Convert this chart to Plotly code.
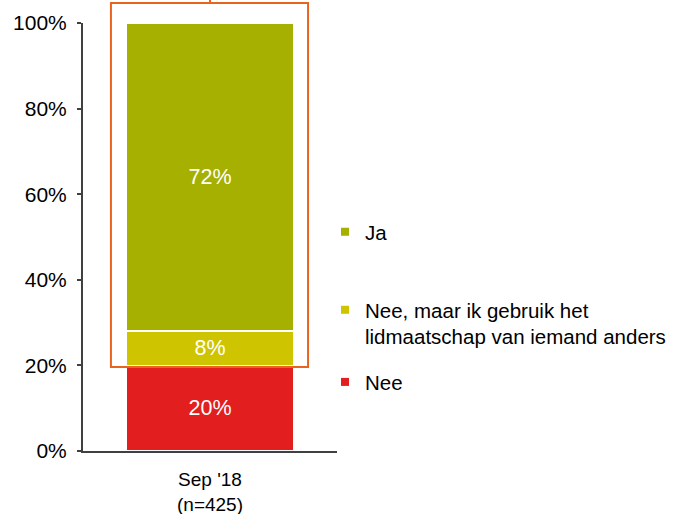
import plotly.graph_objects as go

# data
categories = ["Sep '18<br>(n=425)"]
series_names = ["Nee", "Nee, maar ik gebruik het<br>lidmaatschap van iemand anders", "Ja"]
series_values = [[20], [8], [72]]
series_colors = ["#E31E1E", "#CFC400", "#A5B000"]
y_ticks = [0, 20, 40, 60, 80, 100]
y_tick_labels = ["0%", "20%", "40%", "60%", "80%", "100%"]

FONT = "Arial, Liberation Sans, sans-serif"

fig = go.Figure()

# stacked bars (no legend, legend is drawn by small square markers)
for name, vals, col in zip(series_names, series_values, series_colors):
    fig.add_trace(go.Bar(
        x=categories, y=vals, name=name,
        marker=dict(color=col, line=dict(color="white", width=1.5)),
        text=[f"{v}%" for v in vals], textposition="inside",
        insidetextanchor="middle",
        textfont=dict(color="white", size=21.5, family=FONT),
        width=0.66, showlegend=False,
    ))

# legend entries, one legend each so the spacing can follow the picture
legend_ids = ["legend3", "legend2", "legend"]
legend_y = [0.161, 0.298, 0.512]
for name, col, lg in zip(series_names, series_colors, legend_ids):
    fig.add_trace(go.Scatter(
        x=[None], y=[None], mode="markers", name=name, legend=lg,
        marker=dict(symbol="square", size=8, color=col),
        showlegend=True,
    ))

legend_style = dict(font=dict(size=20.5, family=FONT, color="black"),
                    bgcolor="rgba(0,0,0,0)", x=0.4095, xanchor="left",
                    yanchor="middle", valign="top", itemwidth=30)
fig.update_layout(**{lg: dict(y=yy, **legend_style)
                     for lg, yy in zip(legend_ids, legend_y)})

# orange highlight box round the "Ja" and "Nee, maar" part
low = series_values[0][0]
fig.add_shape(type="rect", xref="x domain", yref="y domain", x0=0.11, x1=0.886,
              y0=(low - 0.4) / 100, y1=1.047, line=dict(color="#E8641E", width=2),
              fillcolor="rgba(0,0,0,0)", layer="above")
fig.add_shape(type="line", xref="x domain", yref="y domain", x0=0.5, x1=0.5,
              y0=1.047, y1=1.1, line=dict(color="#E8641E", width=2))

fig.update_layout(
    barmode="stack",
    width=679, height=514,
    margin=dict(l=83, r=5, t=23, b=63),
    plot_bgcolor="white", paper_bgcolor="white",
    font=dict(family=FONT, size=21, color="black"),
    xaxis=dict(domain=[0, 0.4298], showline=True, linecolor="#404040",
               linewidth=2, ticks="", tickfont=dict(size=19),
               ticklabelstandoff=10, range=[-0.5, 0.5], automargin=False),
    yaxis=dict(range=[0, 100], tickvals=y_ticks, ticktext=y_tick_labels,
               showgrid=False, zeroline=False, showline=True,
               linecolor="#404040", linewidth=2, ticks="outside",
               ticklen=4, tickcolor="#404040", tickwidth=2,
               tickfont=dict(size=21), ticklabelstandoff=6, automargin=False),
)

# drop the default 8px body margin so the figure sits at the page corner
fig.write_html("out.html", config={"displayModeBar": False},
               post_script="document.body.style.margin='0';")
